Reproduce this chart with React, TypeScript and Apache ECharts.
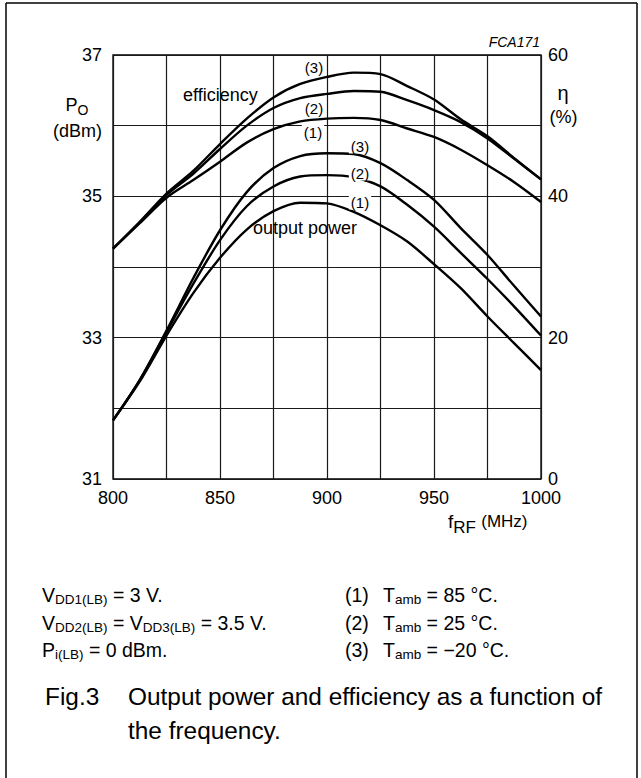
import React, { useEffect, useRef } from "react";
import * as echarts from "echarts";

// frequency (MHz)
const freqs = [800, 812.5, 825, 837.5, 850, 862.5, 875, 887.5, 900, 912.5, 925, 937.5, 950, 962.5, 975, 987.5, 1000];

// efficiency (%) – right axis
const eff85 = [32.6, 36.2, 39.8, 42.3, 44.9, 47.6, 49.5, 50.6, 51.0, 51.1, 50.8, 49.6, 48.4, 46.6, 44.4, 42.0, 39.2];
const eff25 = [32.6, 36.3, 40.2, 43.2, 46.7, 50.0, 52.5, 53.9, 54.5, 54.9, 54.8, 53.6, 52.2, 50.5, 48.2, 45.3, 42.4];
const effM20 = [32.6, 36.4, 40.4, 43.6, 47.4, 51.0, 54.0, 55.9, 56.9, 57.5, 57.3, 55.6, 53.7, 50.9, 48.5, 45.4, 42.4];

// output power (dBm) – left axis
const pow85 = [31.83, 32.38, 33.03, 33.63, 34.13, 34.53, 34.79, 34.91, 34.9, 34.78, 34.59, 34.36, 34.04, 33.7, 33.3, 32.92, 32.54];
const pow25 = [31.83, 32.4, 33.08, 33.76, 34.38, 34.86, 35.14, 35.28, 35.3, 35.27, 35.14, 34.88, 34.57, 34.2, 33.83, 33.44, 33.03];
const powM20 = [31.83, 32.4, 33.1, 33.84, 34.52, 35.06, 35.4, 35.57, 35.61, 35.6, 35.47, 35.23, 34.95, 34.55, 34.17, 33.73, 33.3];

const xTickLabels = [800, 850, 900, 950, 1000];
const leftTickLabels = [31, 33, 35, 37];
const rightTickLabels = [0, 20, 40, 60];

const FONT = "'Liberation Sans', Arial, Helvetica, sans-serif";

function txt(text: string, x: number, y: number, size: number, opts: any = {}) {
  return {
    type: "text",
    x,
    y,
    z: 50,
    silent: true,
    style: {
      text,
      font: `${opts.italic ? "italic " : ""}${size}px ${FONT}`,
      fill: "#000",
      align: opts.align || "left",
      textAlign: opts.align || "left",
      verticalAlign: "middle",
      textVerticalAlign: "middle",
      backgroundColor: opts.bg,
      padding: opts.bg ? [0, 2] : undefined,
    },
  };
}

function rich(text: string, x: number, y: number, main: number, sub: number, shift: number, align = "left", extra: any = {}) {
  return {
    type: "text",
    x,
    y,
    z: 50,
    silent: true,
    style: {
      text,
      align,
      textAlign: align,
      verticalAlign: "middle",
      textVerticalAlign: "middle",
      rich: {
        m: { fontSize: main, fontFamily: FONT, fill: "#000", color: "#000" },
        s: { fontSize: sub, fontFamily: FONT, fill: "#000", color: "#000", padding: [shift, 0, 0, 0] },
        ...extra,
      },
    },
  };
}

export default function App() {
  const ref = useRef<HTMLDivElement>(null);
  useEffect(() => {
    const chart = echarts.init(ref.current!, null, { renderer: "svg" });
    const pair = (ys: number[]) => freqs.map((f, i) => [f, ys[i]]);
    const line = (name: string, ys: number[], yAxisIndex: number) => ({
      name,
      type: "line",
      data: pair(ys),
      yAxisIndex,
      smooth: 0.3,
      symbol: "none",
      silent: true,
      z: 5,
      lineStyle: { color: "#000", width: 2.4 },
    });
    chart.setOption({
      animation: false,
      backgroundColor: "#fff",
      grid: {
        left: 113,
        right: 100,
        top: 55,
        bottom: 299,
        show: true,
        borderColor: "#000",
        borderWidth: 1.3,
        backgroundColor: "transparent",
      },
      xAxis: {
        type: "value",
        min: 800,
        max: 1000,
        interval: 25,
        axisLine: { show: false },
        axisTick: { show: false },
        splitLine: { show: true, lineStyle: { color: "#1a1a1a", width: 1.2 } },
        axisLabel: {
          formatter: (v: number) => (xTickLabels.includes(v) ? String(v) : ""),
          fontSize: 18,
          color: "#000",
          fontFamily: FONT,
          margin: 10,
        },
      },
      yAxis: [
        {
          type: "value",
          min: 31,
          max: 37,
          interval: 1,
          axisLine: { show: false },
          axisTick: { show: false },
          splitLine: { show: true, lineStyle: { color: "#1a1a1a", width: 1.2 } },
          axisLabel: {
            formatter: (v: number) => (leftTickLabels.includes(v) ? String(v) : ""),
            fontSize: 18,
            color: "#000",
            fontFamily: FONT,
            margin: 11,
          },
        },
        {
          type: "value",
          min: 0,
          max: 60,
          interval: 10,
          position: "right",
          axisLine: { show: false },
          axisTick: { show: false },
          splitLine: { show: false },
          axisLabel: {
            formatter: (v: number) => (rightTickLabels.includes(v) ? String(v) : ""),
            fontSize: 18,
            color: "#000",
            fontFamily: FONT,
            margin: 7,
          },
        },
      ],
      series: [
        line("efficiency (1) Tamb = 85 °C", eff85, 1),
        line("efficiency (2) Tamb = 25 °C", eff25, 1),
        line("efficiency (3) Tamb = −20 °C", effM20, 1),
        line("output power (1) Tamb = 85 °C", pow85, 0),
        line("output power (2) Tamb = 25 °C", pow25, 0),
        line("output power (3) Tamb = −20 °C", powM20, 0),
      ],
      graphic: [
        // frame
        { type: "line", silent: true, shape: { x1: 6, y1: 3, x2: 6, y2: 778 }, style: { stroke: "#000", lineWidth: 1.5 } },
        { type: "line", silent: true, shape: { x1: 6, y1: 3, x2: 637, y2: 3 }, style: { stroke: "#000", lineWidth: 1.5 } },
        { type: "line", silent: true, shape: { x1: 637, y1: 3, x2: 637, y2: 778 }, style: { stroke: "#000", lineWidth: 1.5 } },
        txt("FCA171", 540, 42, 14, { align: "right", italic: true }),
        // axis names
        rich("{m|P}{s|O}", 77, 105, 18, 14, 10, "center"),
        txt("(dBm)", 77.5, 131, 18, { align: "center" }),
        txt("η", 563, 93, 20, { align: "center" }),
        txt("(%)", 563.5, 117, 18, { align: "center" }),
        rich("{m|f}{s|RF}{m| }{n|(MHz)}", 448, 521, 19, 17, 12, "left", {
          n: { fontSize: 17, fontFamily: FONT, fill: "#000", color: "#000" },
        }),
        // annotations
        txt("efficiency", 183, 95, 18),
        txt("output power", 253, 228, 18),
        txt("(3)", 314, 67, 15, { align: "center", bg: "#fff" }),
        txt("(2)", 314, 108, 15, { align: "center", bg: "#fff" }),
        txt("(1)", 313, 132, 15, { align: "center", bg: "#fff" }),
        txt("(3)", 360, 146, 15, { align: "center", bg: "#fff" }),
        txt("(2)", 360, 173, 15, { align: "center", bg: "#fff" }),
        txt("(1)", 360, 202, 15, { align: "center", bg: "#fff" }),
        // notes
        rich("{m|V}{s|DD1(LB)}{m| = 3 V.}", 42, 595, 19.5, 13.5, 9),
        rich("{m|V}{s|DD2(LB)}{m| = V}{s|DD3(LB)}{m| = 3.5 V.}", 42, 623, 19.5, 13.5, 9),
        rich("{m|P}{s|i(LB)}{m| = 0 dBm.}", 42, 650, 19.5, 13.5, 9),
        txt("(1)", 345, 595, 19.5),
        txt("(2)", 345, 623, 19.5),
        txt("(3)", 345, 650, 19.5),
        rich("{m|T}{s|amb}{m| = 85 °C.}", 383, 595, 19.5, 13.5, 9),
        rich("{m|T}{s|amb}{m| = 25 °C.}", 383, 623, 19.5, 13.5, 9),
        rich("{m|T}{s|amb}{m| = −20 °C.}", 383, 650, 19.5, 13.5, 9),
        txt("Fig.3", 45, 696, 24.4),
        txt("Output power and efficiency as a function of", 128, 696, 24.4),
        txt("the frequency.", 128, 730, 24.4),
      ],
    });
    return () => chart.dispose();
  }, []);
  return (
    <div
      ref={ref}
      style={{ position: "fixed", left: 0, top: 0, width: 641, height: 778, background: "#fff" }}
    />
  );
}
